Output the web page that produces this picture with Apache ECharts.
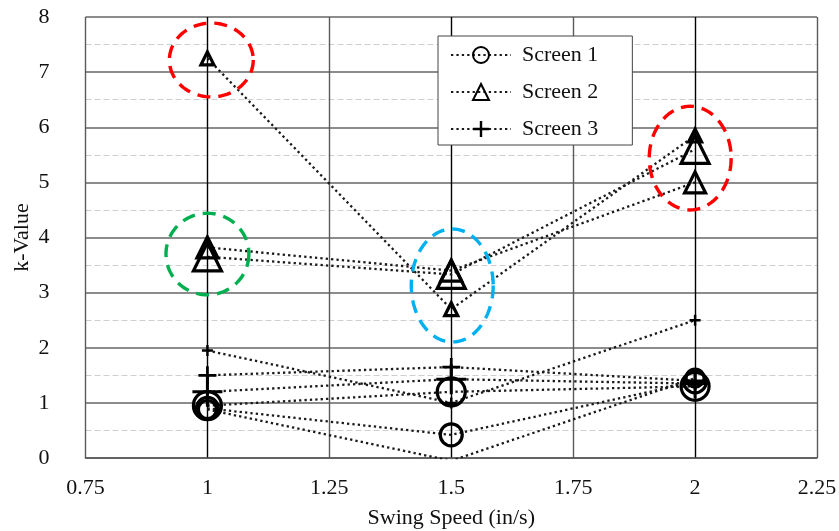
<!DOCTYPE html>
<html>
<head>
<meta charset="utf-8">
<script src="https://cdn.jsdelivr.net/npm/echarts@6/dist/echarts.min.js"></script>
<style>
  html, body { margin: 0; padding: 0; background: #fff; }
  #chart { width: 839px; height: 531px; }
</style>
</head>
<body>
<div id="chart"></div>
<script>
// Swing speeds at which each screen was tested (in/s)
const swingSpeed = [1, 1.5, 2];
const xTicks = [0.75, 1, 1.25, 1.5, 1.75, 2, 2.25];
const yTicks = [0, 1, 2, 3, 4, 5, 6, 7, 8];

// k-values per run, one value per swing speed
const screen1RunA = [0.95, 1.2, 1.3];
const screen1RunB = [0.9, 0.42, 1.38];
const screen1RunC = [0.88, -0.05, 1.45];

const screen2RunA = [3.82, 3.4, 5.0];
const screen2RunB = [7.25, 2.7, 5.85];
const screen2RunC = [3.65, 3.33, 5.6];

const screen3RunA = [1.5, 1.65, 1.4];
const screen3RunB = [1.95, 1.0, 2.5];
const screen3RunC = [1.2, 1.43, 1.35];

// Highlight rings: centre (speed, k) and half-extent in data units
const ringSpeed = [1.008, 1.0, 1.502, 1.99];
const ringK = [7.22, 3.7, 3.13, 5.44];
const ringHalfSpeed = [0.086, 0.085, 0.084, 0.084];
const ringHalfK = [0.67, 0.74, 1.025, 0.94];
const ringColors = ['#ff0000', '#00b050', '#00b0f0', '#ff0000'];

const FONT = 'Liberation Serif';

// Filled "+" marker with a given bar thickness (percent of the marker size)
function plusPath(t) {
  const a = 50 - t / 2, b = 50 + t / 2;
  return 'path://M0,' + a + 'H100V' + b + 'H0Z M' + a + ',0H' + b + 'V100H' + a + 'Z';
}

function run(name, values, symbol, size, filled) {
  return {
    type: 'line',
    name: name,
    data: swingSpeed.map((x, i) => [x, values[i]]),
    symbol: symbol,
    symbolSize: size,
    showAllSymbol: true,
    clip: true,
    z: 3,
    lineStyle: { color: '#1a1a1a', width: 2.3, type: [2.3, 3.1] },
    itemStyle: filled
      ? { color: '#000', borderWidth: 0 }
      : { color: 'rgba(0,0,0,0)', borderColor: '#000', borderWidth: 3.2 },
    emphasis: { disabled: true }
  };
}

const series = [
  run('Screen 1', screen1RunA, 'circle', 28, false),
  run('Screen 1', screen1RunB, 'circle', 22, false),
  run('Screen 1', screen1RunC, 'circle', 18, false),
  run('Screen 2', screen2RunA, 'triangle', 21, false),
  run('Screen 2', screen2RunB, 'triangle', 13, false),
  run('Screen 2', screen2RunC, 'triangle', 28, false),
  run('Screen 3', screen3RunA, plusPath(15), 18, true),
  run('Screen 3', screen3RunB, plusPath(22), 11, true),
  run('Screen 3', screen3RunC, plusPath(10), 30, true),
  {
    type: 'custom',
    name: 'rings',
    silent: true,
    z: 10,
    data: ringSpeed.map((x, i) => [x, ringK[i], ringHalfSpeed[i], ringHalfK[i]]),
    renderItem: function (params, api) {
      const c = api.coord([api.value(0), api.value(1)]);
      const r = api.size([api.value(2), api.value(3)]);
      const pts = [];
      for (let k = 0; k <= 96; k++) {
        const t = (k / 96) * Math.PI * 2;
        pts.push([c[0] + r[0] * Math.cos(t), c[1] + r[1] * Math.sin(t)]);
      }
      return {
        type: 'polygon',
        shape: { points: pts },
        style: {
          fill: 'none',
          stroke: ringColors[params.dataIndex],
          lineWidth: 3.4,
          lineDash: [13, 8]
        }
      };
    }
  }
];

const chart = echarts.init(document.getElementById('chart'), null, { renderer: 'canvas' });
chart.setOption({
  animation: false,
  backgroundColor: '#fff',
  grid: { left: 85.5, right: 22, top: 17, bottom: 73, outerBoundsMode: 'none', containLabel: false },
  legend: {
    data: ['Screen 1', 'Screen 2', 'Screen 3'],
    orient: 'vertical',
    left: 438,
    top: 36,
    padding: [8, 34, 5, 12],
    itemGap: 15,
    itemWidth: 60,
    itemHeight: 20,
    backgroundColor: '#fff',
    borderColor: '#444',
    borderWidth: 1,
    borderRadius: 0,
    selectedMode: false,
    textStyle: { fontFamily: FONT, fontSize: 22, color: '#111', padding: [0, 0, 0, 6] }
  },
  xAxis: {
    type: 'value',
    min: xTicks[0],
    max: xTicks[xTicks.length - 1],
    interval: xTicks[1] - xTicks[0],
    name: 'Swing Speed (in/s)',
    nameLocation: 'middle',
    nameGap: 49,
    nameMoveOverlap: false,
    nameTextStyle: { fontFamily: FONT, fontSize: 22, color: '#111' },
    axisLine: { show: true, lineStyle: { color: '#555', width: 1.5 } },
    axisTick: { show: false },
    axisLabel: { fontFamily: FONT, fontSize: 22, color: '#111', margin: 19 },
    splitLine: { show: true, lineStyle: { color: ['#5a5a5a', '#000'], width: 1.4 } }
  },
  yAxis: {
    type: 'value',
    min: yTicks[0],
    max: yTicks[yTicks.length - 1],
    interval: yTicks[1] - yTicks[0],
    name: 'k-Value',
    nameLocation: 'middle',
    nameGap: 52,
    nameMoveOverlap: false,
    nameTextStyle: { fontFamily: FONT, fontSize: 22, color: '#111' },
    axisLine: { show: false },
    axisTick: { show: false },
    axisLabel: { fontFamily: FONT, fontSize: 22, color: '#111', margin: 36 },
    splitLine: { show: true, lineStyle: { color: '#666', width: 1.5 } },
    minorTick: { show: false, splitNumber: 2 },
    minorSplitLine: { show: true, lineStyle: { color: '#cfcfcf', width: 1.2, type: [6, 3] } }
  },
  series: series
});
</script>
</body>
</html>
